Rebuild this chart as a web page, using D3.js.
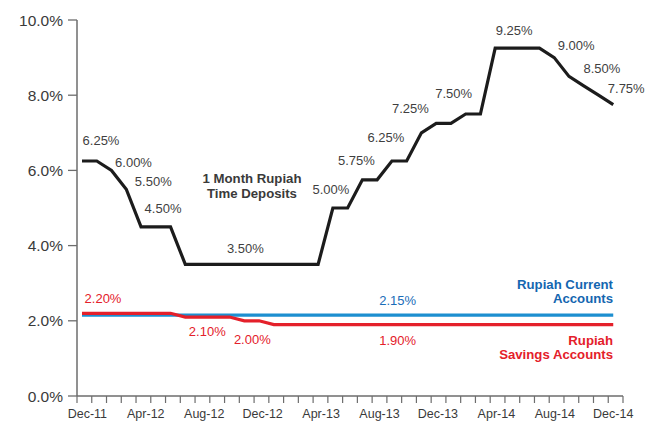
<!DOCTYPE html>
<html><head><meta charset="utf-8">
<script src="https://cdn.jsdelivr.net/npm/d3@7"></script>
<style>body{margin:0;background:#fff}svg{display:block}text{font-family:"Liberation Sans",Arial,Helvetica,sans-serif}</style>
</head><body><svg id="c" width="653" height="424"></svg>
<script>
const months = ["Dec-11","Jan-12","Feb-12","Mar-12","Apr-12","May-12","Jun-12","Jul-12","Aug-12","Sep-12","Oct-12","Nov-12","Dec-12","Jan-13","Feb-13","Mar-13","Apr-13","May-13","Jun-13","Jul-13","Aug-13","Sep-13","Oct-13","Nov-13","Dec-13","Jan-14","Feb-14","Mar-14","Apr-14","May-14","Jun-14","Jul-14","Aug-14","Sep-14","Oct-14","Nov-14","Dec-14"];
const tickLabels = ["Dec-11","Apr-12","Aug-12","Dec-12","Apr-13","Aug-13","Dec-13","Apr-14","Aug-14","Dec-14"];
const yTicks = [0,2,4,6,8,10];
const timeDeposits = [6.25,6.25,6.00,5.50,4.50,4.50,4.50,3.50,3.50,3.50,3.50,3.50,3.50,3.50,3.50,3.50,3.50,5.00,5.00,5.75,5.75,6.25,6.25,7.00,7.25,7.25,7.50,7.50,9.25,9.25,9.25,9.25,9.00,8.50,8.25,8.00,7.75];
const currentAccounts = months.map(() => 2.15);
const savingsAccounts = [2.20,2.20,2.20,2.20,2.20,2.20,2.20,2.10,2.10,2.10,2.10,2.00,2.00,1.90,1.90,1.90,1.90,1.90,1.90,1.90,1.90,1.90,1.90,1.90,1.90,1.90,1.90,1.90,1.90,1.90,1.90,1.90,1.90,1.90,1.90,1.90,1.90];
// value labels: [month, text, dx, baseline y]
const tdLabels = [["Dec-11","6.25%",19,145],["Feb-12","6.00%",22,167],["Mar-12","5.50%",27,186],["Apr-12","4.50%",22,213],["Nov-12","3.50%",1,253],["May-13","5.00%",-2,194],["Jul-13","5.75%",-6,165],["Sep-13","6.25%",-6,142],["Nov-13","7.25%",-11,113],["Feb-14","7.50%",-12,98],["Apr-14","9.25%",19,35],["Aug-14","9.00%",22,50],["Sep-14","8.50%",33,73],["Dec-14","7.75%",13,93]];
const savLabels = [["Dec-11","2.20%",21,303],["Jul-12","2.10%",22,336],["Nov-12","2.00%",8,344],["Oct-13","1.90%",-9,345]];
const curLabels = [["Oct-13","2.15%",-9,305]];

const svg = d3.select("#c");
const band = d3.scaleBand().domain(months).range([77,623]).padding(0);
const x = d => band(d) + 5;
const y = d3.scaleLinear().domain([0,10]).range([396,20]);
const axisCol = "#6d6d6d";

// y axis
const ya = svg.append("g");
ya.append("line").attr("x1",77).attr("x2",77).attr("y1",y(10)).attr("y2",y(0)).attr("stroke",axisCol).attr("stroke-width",1.5);
yTicks.forEach(t => {
  ya.append("line").attr("x1",68).attr("x2",77).attr("y1",y(t)).attr("y2",y(t)).attr("stroke",axisCol).attr("stroke-width",1.3);
  ya.append("text").attr("x",63).attr("y",y(t)+5.5).attr("text-anchor","end").attr("font-size",15.5).attr("fill","#3a3a3a").text(t.toFixed(1)+"%");
});
// x axis
const xa = svg.append("g");
xa.append("line").attr("x1",77).attr("x2",623).attr("y1",396).attr("y2",396).attr("stroke",axisCol).attr("stroke-width",1.5);
const edges = months.map(m => band(m)).concat([band.range()[1]]);
edges.forEach(e => xa.append("line").attr("x1",e).attr("x2",e).attr("y1",396).attr("y2",403).attr("stroke",axisCol).attr("stroke-width",1.2));
tickLabels.forEach((m,i) => {
  xa.append("text").attr("x",band(m)+band.bandwidth()/2 + 3 - i*0.6).attr("y",418).attr("text-anchor","middle").attr("font-size",12.5).attr("fill","#3a3a3a").text(m);
});

const line = d3.line().x((d,i) => x(months[i])).y(d => y(d));
svg.append("path").datum(currentAccounts).attr("d",line).attr("fill","none").attr("stroke","#1d8fd0").attr("stroke-width",3.2);
svg.append("path").datum(savingsAccounts).attr("d",line).attr("fill","none").attr("stroke","#e4202a").attr("stroke-width",3.2);
svg.append("path").datum(timeDeposits).attr("d",line).attr("fill","none").attr("stroke","#1c1c1c").attr("stroke-width",3.2);

function labels(arr, col){
  arr.forEach(([m,t,dx,by]) => svg.append("text").attr("x",x(m)+dx).attr("y",by).attr("text-anchor","middle").attr("font-size",13).attr("fill",col).text(t));
}
labels(tdLabels,"#3f3f3f");
labels(savLabels,"#e4202a");
labels(curLabels,"#1a6db8");

// series names
const nm = (lines, xx, yy, anchor, col, fs) => lines.forEach((l,i) => svg.append("text").attr("x",xx).attr("y",yy+i*14.6).attr("text-anchor",anchor).attr("font-size",fs).attr("font-weight","bold").attr("fill",col).text(l));
nm(["1 Month Rupiah","Time Deposits"], 252, 183.3, "middle", "#3a3a3a", 13.2);
nm(["Rupiah Current","Accounts"], 613, 288.5, "end", "#1466b0", 13.2);
nm(["Rupiah","Savings Accounts"], 613, 344.5, "end", "#e4202a", 13.2);
</script></body></html>
